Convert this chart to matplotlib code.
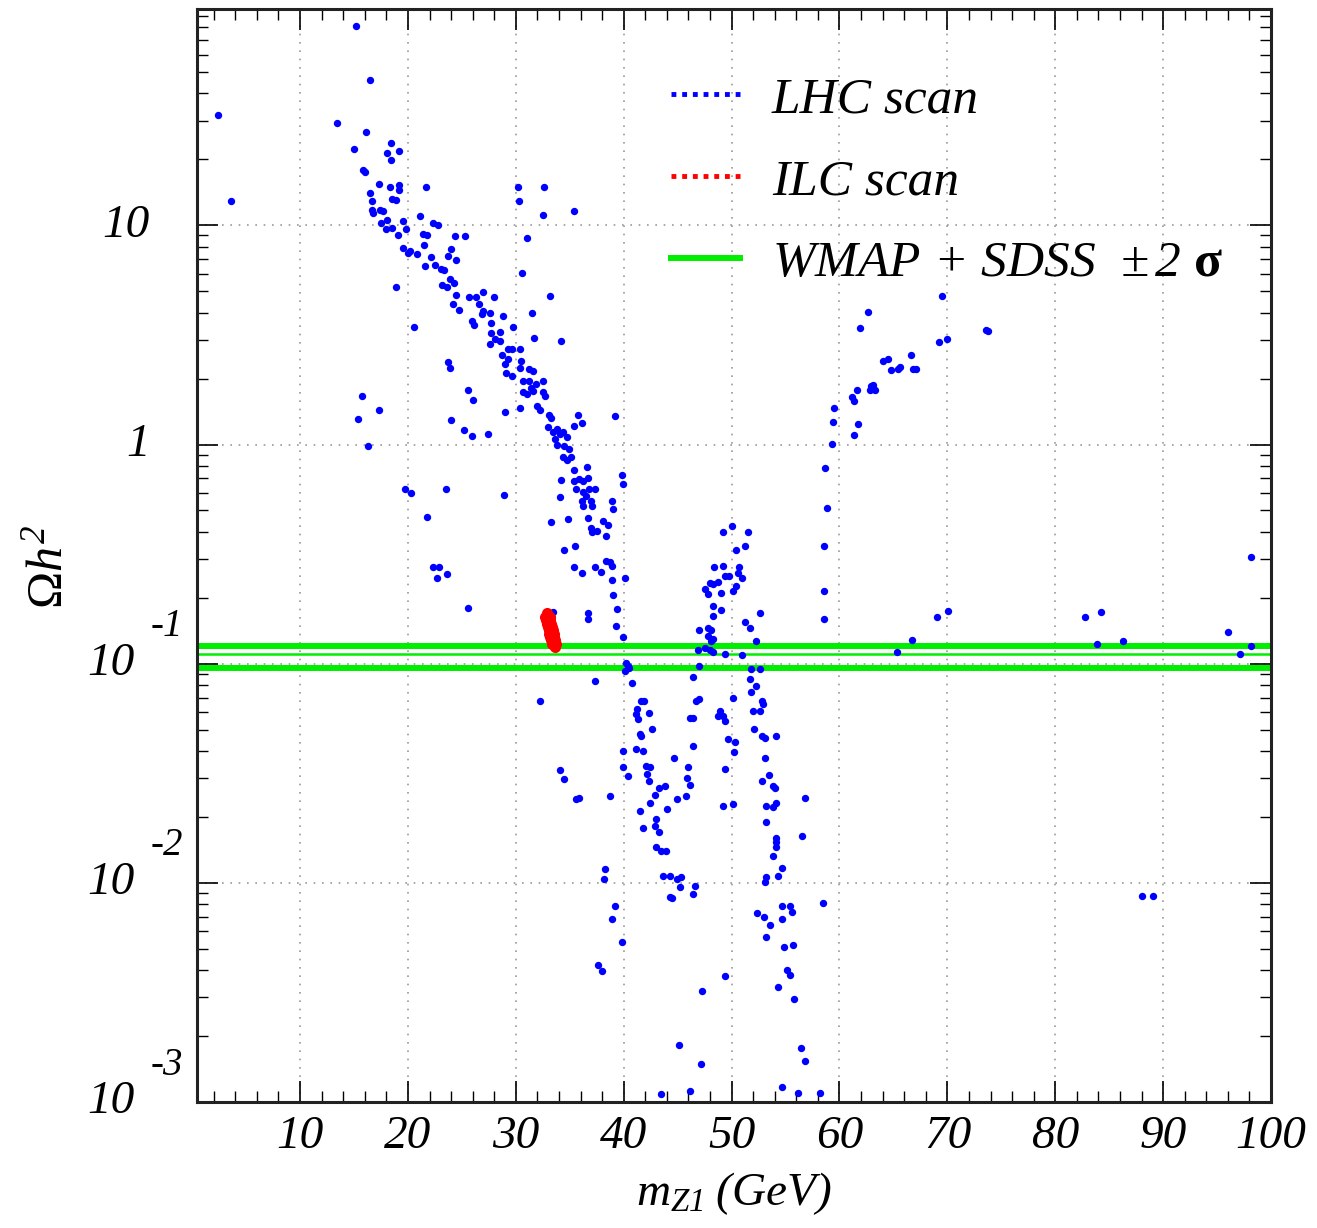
import matplotlib
matplotlib.use("Agg")
import matplotlib.pyplot as plt
import matplotlib.transforms as mtransforms
from matplotlib.lines import Line2D
from matplotlib.ticker import FixedLocator, MultipleLocator, LogLocator, NullFormatter

plt.rcParams['font.family'] = 'Liberation Serif'
plt.rcParams['font.style'] = 'italic'
plt.rcParams['mathtext.fontset'] = 'custom'
plt.rcParams['mathtext.rm'] = 'Liberation Serif:style=italic'
plt.rcParams['mathtext.it'] = 'Liberation Serif:style=italic'
plt.rcParams['mathtext.bf'] = 'Liberation Serif:style=normal:weight=bold'
plt.rcParams['mathtext.sf'] = 'Liberation Serif:style=normal'

# LHC scan points: m_Z1 (GeV) and Omega h^2
lhc_x = [15.2, 16.5, 2.4, 13.4, 16.1, 18.4, 19.2, 15.0, 18.1, 18.4, 15.8, 16.0, 17.3, 18.3, 19.2,
         19.2, 21.7, 30.2, 32.6, 16.5, 18.5, 18.9, 16.7, 3.6, 30.3, 35.4, 16.7, 17.4, 17.7, 16.8,
         32.5, 21.1, 19.5, 22.3, 22.8, 17.5, 18.1, 18.0, 18.5, 19.8, 19.1, 21.4, 21.8, 24.4, 25.3,
         31.0, 19.5, 20.2, 20.8, 20.0, 21.5, 24.0, 23.7, 24.5, 22.1, 21.6, 22.5, 23.1, 23.3, 30.6,
         18.9, 23.2, 23.6, 23.9, 24.3, 27.0, 25.7, 26.3, 28.0, 24.5, 33.2, 24.2, 24.7, 26.6, 27.0,
         27.6, 26.9, 28.8, 31.5, 25.9, 26.1, 20.6, 27.7, 27.7, 28.5, 29.7, 31.7, 34.2, 27.6, 28.5,
         28.1, 29.3, 29.6, 28.7, 29.3, 29.0, 30.4, 30.5, 30.4, 31.2, 31.6, 23.7, 23.9, 29.1, 29.6,
         30.7, 31.2, 32.5, 31.9, 31.4, 31.6, 30.7, 31.0, 32.5, 32.7, 25.6, 26.0, 15.7, 17.3, 15.4,
         29.0, 30.4, 32.0, 32.2, 33.1, 33.3, 35.8, 36.1, 35.4, 39.2, 24.0, 25.2, 25.9, 27.4, 33.0,
         33.4, 33.8, 34.1, 34.4, 34.7, 33.6, 33.8, 16.3,
         # 0.1 < Omega h^2 < 1
         34.5, 34.9, 34.4, 34.7, 35.1, 35.4, 36.6, 34.2, 35.4, 35.9, 36.2, 36.7, 35.6, 36.2, 36.8,
         37.3, 36.5, 36.1, 37.0, 36.2, 37.1, 34.1, 39.8, 39.9, 38.9, 39.0, 33.3, 34.8, 36.7, 37.0,
         37.1, 37.5, 38.1, 38.5, 38.4, 35.5, 34.5, 35.4, 36.1, 37.3, 37.9, 38.4, 38.7, 38.9, 40.1,
         38.9, 39.0, 39.4, 39.3, 39.9, 36.7, 36.7, 33.4, 28.9, 19.7, 20.3, 23.5, 21.8, 22.3, 22.9,
         23.6, 22.7, 25.6, 32.2, 37.3, 40.2, 40.4, 40.1, 40.5, 40.8,
         49.2, 50.0, 51.5, 51.2, 50.4, 48.4, 49.2, 50.7, 50.6, 51.0, 49.8, 49.4, 48.7, 48.3, 48.0,
         47.5, 47.8, 49.0, 50.1, 50.4, 48.3, 49.0, 48.3, 52.6, 47.0, 47.8, 48.1, 47.8, 48.3, 48.1,
         51.2, 51.7, 52.3, 46.9, 47.5, 48.0, 48.3, 49.4, 51.0, 47.0, 51.8, 52.6, 46.4, 51.7, 52.3,
         51.8, 50.1, 46.7, 47.0,
         # below the relic band
         52.8, 52.9, 52.6, 52.0, 48.9, 49.2, 49.4, 46.1, 46.4, 52.1, 52.8, 53.1, 54.1, 49.7, 50.3,
         46.4, 41.6, 41.9, 41.2, 41.1, 41.3, 42.3, 42.6, 41.5, 41.6, 41.1, 41.8, 39.9, 39.9, 40.4,
         42.1, 42.4, 42.2, 42.3, 43.3, 43.8, 42.9, 42.4, 41.5, 41.8, 43.0, 42.9, 43.3, 44.0, 44.9,
         45.8, 44.7, 46.0, 45.9, 46.1, 43.0, 43.5, 43.9, 38.7, 38.3, 38.2, 43.6, 44.3, 44.9, 45.3,
         45.2, 46.6, 46.4, 44.3, 44.5, 48.7, 50.2, 49.4, 49.2, 50.1, 53.1, 53.5, 52.8, 53.8, 54.0,
         53.2, 53.8, 54.1, 53.2, 54.1, 54.1, 54.1, 53.8, 54.7, 54.3, 53.2, 53.1, 56.5, 56.8, 52.4,
         53.0, 53.6, 53.2, 54.7, 55.4, 55.6, 54.7, 58.5, 54.9, 55.7, 55.1, 55.4, 54.3, 55.8, 56.4,
         56.8, 54.7, 56.2, 58.2, 39.2, 38.9, 39.8, 37.6, 38.0, 49.4, 47.3, 45.1, 47.2, 43.5, 46.1,
         34.1, 34.5, 35.6, 35.9,
         # high-mass branch
         69.5, 73.6, 73.8, 62.6, 61.9, 69.2, 70.0, 66.6, 64.0, 64.5, 64.8, 65.4, 65.6, 66.8, 67.1,
         62.9, 63.1, 62.8, 63.3, 61.6, 61.2, 61.3, 59.5, 59.4, 61.7, 61.3, 59.3, 58.7, 58.8, 58.6,
         58.6, 58.6, 98.1, 69.0, 70.1, 82.8, 84.2, 66.7, 65.3, 83.9, 86.3, 96.0, 97.1, 98.1, 88.0,
         89.1]
lhc_y = [81.3, 46.0, 32.0, 29.3, 26.7, 23.7, 21.8, 22.2, 21.3, 19.8, 17.8, 17.5, 15.5, 15.0, 15.2,
         14.5, 15.0, 15.0, 15.0, 14.0, 13.2, 13.0, 12.9, 12.9, 12.9, 11.6, 11.8, 11.7, 11.6, 11.4,
         11.1, 11.0, 10.5, 10.3, 10.0, 10.2, 10.6, 9.66, 9.73, 9.66, 9.04, 9.11, 9.02, 8.95, 8.95,
         8.79, 7.92, 7.64, 7.38, 7.5, 8.14, 7.78, 7.25, 6.93, 7.2, 6.53, 6.58, 6.35, 6.25, 6.09,
         5.26, 5.33, 5.26, 5.72, 5.48, 4.97, 4.71, 4.71, 4.71, 4.8, 4.75, 4.37, 4.11, 4.37, 4.07,
         3.98, 3.93, 3.85, 4.0, 3.66, 3.50, 3.43, 3.58, 3.22, 3.27, 3.43, 3.05, 2.97, 2.87, 2.97,
         3.02, 2.74, 2.72, 2.55, 2.46, 2.32, 2.72, 2.41, 2.24, 2.21, 2.17, 2.37, 2.24, 2.13, 2.05,
         1.95, 1.95, 1.95, 1.88, 1.82, 1.76, 1.73, 1.70, 1.73, 1.66, 1.77, 1.59, 1.67, 1.44, 1.31,
         1.40, 1.47, 1.50, 1.44, 1.37, 1.32, 1.36, 1.25, 1.22, 1.35, 1.30, 1.17, 1.09, 1.12, 1.20,
         1.14, 1.18, 1.12, 1.14, 1.08, 1.06, 1.0, 0.98,
         0.98, 0.952, 0.873, 0.85, 0.873, 0.766, 0.79, 0.690, 0.68, 0.695, 0.68, 0.70, 0.625, 0.61, 0.625,
         0.625, 0.583, 0.553, 0.553, 0.525, 0.525, 0.574, 0.724, 0.657, 0.55, 0.507, 0.444, 0.455, 0.46, 0.418,
         0.40, 0.405, 0.448, 0.43, 0.383, 0.343, 0.33, 0.275, 0.259, 0.275, 0.262, 0.294, 0.29, 0.28, 0.245,
         0.24, 0.205, 0.177, 0.149, 0.132, 0.170, 0.16, 0.172, 0.589, 0.625, 0.60, 0.625, 0.468, 0.275, 0.275,
         0.256, 0.245, 0.179, 0.0673, 0.0835, 0.101, 0.098, 0.093, 0.096, 0.082,
         0.399, 0.425, 0.40, 0.343, 0.33, 0.275, 0.28, 0.275, 0.26, 0.245, 0.25, 0.25, 0.236, 0.23, 0.234,
         0.220, 0.207, 0.21, 0.215, 0.227, 0.184, 0.175, 0.165, 0.17, 0.143, 0.146, 0.143, 0.134, 0.13, 0.127,
         0.155, 0.146, 0.127, 0.116, 0.118, 0.115, 0.113, 0.1105, 0.11, 0.0977, 0.0944, 0.0944, 0.0865, 0.085, 0.0792,
         0.074, 0.0697, 0.0677, 0.069,
         0.0677, 0.0653, 0.0609, 0.061, 0.061, 0.0578, 0.0548, 0.0568, 0.0568, 0.0502, 0.0469, 0.046, 0.0469, 0.0453, 0.0437,
         0.0422, 0.0677, 0.0677, 0.062, 0.0588, 0.0558, 0.0598, 0.0502, 0.0477, 0.0469, 0.041, 0.040, 0.0398, 0.0336, 0.0308,
         0.034, 0.0336, 0.0313, 0.0292, 0.0270, 0.0277, 0.0251, 0.0231, 0.0213, 0.0177, 0.0195, 0.0182, 0.0170, 0.0217, 0.0241,
         0.0248, 0.0373, 0.0336, 0.0302, 0.028, 0.0145, 0.014, 0.0139, 0.0248, 0.01155, 0.0104, 0.0108, 0.0108, 0.0104, 0.0106,
         0.0096, 0.0097, 0.00888, 0.0086, 0.0085, 0.0578, 0.0394, 0.033, 0.0224, 0.0228, 0.0373, 0.0312, 0.0292, 0.0277, 0.027,
         0.0224, 0.0221, 0.0232, 0.0189, 0.0161, 0.0153, 0.0145, 0.0133, 0.01164, 0.0107, 0.0106, 0.0101, 0.0164, 0.0245, 0.00725,
         0.00695, 0.00643, 0.00569, 0.0078, 0.0078, 0.0074, 0.00686, 0.0081, 0.00507, 0.0052, 0.00401, 0.0038, 0.00335, 0.00295, 0.00176,
         0.00154, 0.00117, 0.00110, 0.00110, 0.00785, 0.00683, 0.00538, 0.00421, 0.00397, 0.00374, 0.00322, 0.00182, 0.00149, 0.00109, 0.00112,
         0.0328, 0.0298, 0.0241, 0.0245,
         4.76, 3.33, 3.30, 4.04, 3.39, 2.94, 3.02, 2.55, 2.41, 2.45, 2.19, 2.20, 2.25, 2.22, 2.22,
         1.84, 1.86, 1.77, 1.77, 1.77, 1.64, 1.58, 1.46, 1.27, 1.24, 1.10, 1.01, 0.780, 0.511, 0.345,
         0.215, 0.160, 0.308, 0.1635, 0.174, 0.164, 0.173, 0.128, 0.113, 0.1236, 0.127, 0.140, 0.111, 0.12, 0.0087,
         0.0087]

# ILC scan points (dense blob)
ilc_x = [32.85, 32.93, 33.0, 33.08, 33.15, 33.23, 33.3, 33.38, 33.45, 33.53, 33.6,
         32.73, 32.8, 32.88, 32.95, 33.03, 33.1, 33.18, 33.25, 33.33,
         33.13, 33.2, 33.28, 33.35, 33.43, 33.5, 33.58, 33.65, 33.73]
ilc_y = [0.170, 0.164, 0.158, 0.152, 0.147, 0.142, 0.137, 0.132, 0.128, 0.123, 0.119,
         0.164, 0.158, 0.152, 0.147, 0.142, 0.137, 0.132, 0.128, 0.123,
         0.164, 0.158, 0.152, 0.147, 0.142, 0.137, 0.132, 0.128, 0.123]

# WMAP + SDSS band (lower, central, upper)
wmap_low, wmap_mid, wmap_high = 0.0958, 0.1105, 0.121

x_ticks = [10, 20, 30, 40, 50, 60, 70, 80, 90, 100]
y_ticks = [1e-3, 1e-2, 1e-1, 1, 10]
y_base = ['10', '10', '10', '1', '10']
y_exp = ['-3', '-2', '-1', '', '']

fig = plt.figure(figsize=(13.17, 12.28), dpi=100)
ax = fig.add_axes([0.1496, 0.1026, 0.8155, 0.890])

green = '#00ee00'
ax.axhline(wmap_high, color=green, lw=4.3, zorder=2)
ax.axhline(wmap_mid, color=green, lw=1.8, zorder=2)
ax.axhline(wmap_low, color=green, lw=4.3, zorder=2)

ax.plot(lhc_x, lhc_y, 'o', color='#0000ff', ms=5.3, mew=0, zorder=3)
ax.plot(ilc_x, ilc_y, 'o', color='#ff0000', ms=8, mew=0, zorder=4)

ax.set_yscale('log')
ax.set_xlim(0.45, 100)
ax.set_ylim(1e-3, 97)

ax.xaxis.set_major_locator(FixedLocator(x_ticks))
ax.xaxis.set_minor_locator(MultipleLocator(2))
ax.yaxis.set_major_locator(FixedLocator(y_ticks))
ax.yaxis.set_minor_locator(LogLocator(base=10, subs=range(2, 10)))
ax.yaxis.set_minor_formatter(NullFormatter())

ax.tick_params(which='both', direction='in', top=True, right=True, labelsize=34)
ax.tick_params(which='major', length=15, width=1.2)
ax.tick_params(which='minor', length=8, width=1.0)
ax.tick_params(axis='x', pad=10)
ax.tick_params(axis='y', labelleft=False)

# ROOT-style y labels: base and a large raised exponent
ytrans = ax.get_yaxis_transform()
exp_trans = mtransforms.offset_copy(ytrans, fig=fig, y=37, units='dots')
for val, base, ex in zip(y_ticks, y_base, y_exp):
    if ex:
        ax.text(-0.058, val, base, transform=ytrans, ha='right', va='center', fontsize=34)
        ax.text(-0.043, val, ex, transform=exp_trans, ha='left', va='center', fontsize=28)
    else:
        ax.text(-0.044, val, base, transform=ytrans, ha='right', va='center', fontsize=34)

for s in ax.spines.values():
    s.set_linewidth(2.2)
    s.set_color('#222222')

ax.grid(True, which='major', color='#999999', linestyle=(0, (1, 4)), linewidth=1.2)
ax.set_axisbelow(True)

ax.set_xlabel(r'$m_{Z1}\;(GeV)$', fontsize=34)
ax.set_ylabel(r'$\mathsf{\Omega}h^{2}$', fontsize=36)
ax.xaxis.set_label_coords(0.5, -0.062)
ax.yaxis.set_label_coords(-0.115, 0.49)

handles = [Line2D([], [], color='#0000ff', ls=(0, (1, 1.2)), lw=3.5),
           Line2D([], [], color='#ff0000', ls=(0, (1, 1.2)), lw=3.5),
           Line2D([], [], color=green, ls='-', lw=4.3)]
labels = ['LHC scan', 'ILC scan', r'WMAP + SDSS  $\pm\,2$ $\mathbf{\sigma}$']
ax.legend(handles, labels, loc='upper left', bbox_to_anchor=(0.417, 0.962), frameon=False,
          fontsize=37, handlelength=1.35, handletextpad=0.62, labelspacing=0.68, borderpad=0)

fig.savefig('out.png', dpi=100)
